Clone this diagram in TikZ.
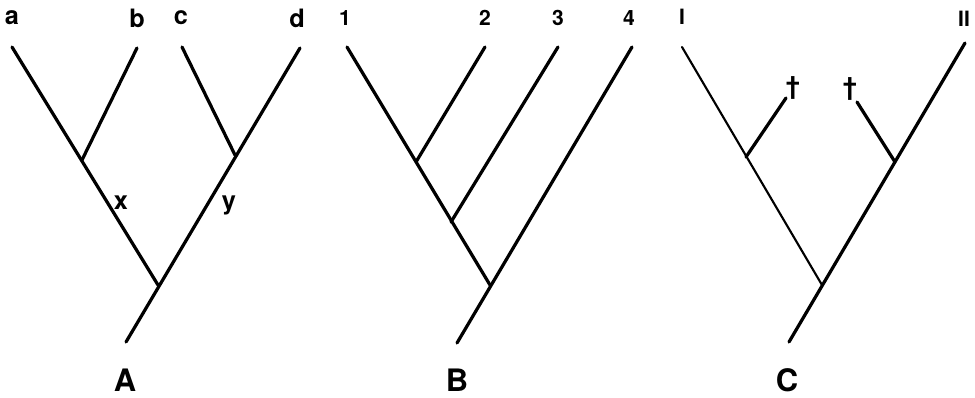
\documentclass[tikz,border=0pt]{standalone}
\usepackage{fontspec}
\setmainfont{TeX Gyre Heros}
\usepackage{tikz}

\begin{document}
\begin{tikzpicture}[x=0.025cm,y=-0.025cm,
  branch/.style={line width=2.3pt,line cap=round},
  twig/.style={line width=1.5pt,line cap=round},
  leaf/.style={font=\bfseries\fontsize{18}{18}\selectfont,inner sep=0pt},
  num/.style={font=\bfseries\fontsize{15}{15}\selectfont,inner sep=0pt},
  title/.style={font=\bfseries\fontsize{22}{22}\selectfont,inner sep=0pt}]
\useasboundingbox (0,0) rectangle (975,397);
% tree A
\coordinate (ta) at (12,47);  \coordinate (tb) at (137,48);
\coordinate (tc) at (182,47); \coordinate (td) at (300,48);
\coordinate (nab) at (82,160); \coordinate (ncd) at (235,155);
\coordinate (ra) at (158,285); \coordinate (ba) at (126,342);
\draw[branch] (ta) -- (ra);
\draw[branch] (tb) -- (nab);
\draw[branch] (tc) -- (ncd);
\draw[branch] (td) -- (ba);
\foreach \n/\x in {a/12,b/137,c/181,d/297} { \node[leaf] (l\n) at (\x,18) {\n}; }
\node[leaf] (lx) at (121,203) {x};
\node[leaf] (ly) at (229,205) {y};
\node[title] (capA) at (125,380) {A};
% tree B
\coordinate (t1) at (347,47); \coordinate (t2) at (485,47);
\coordinate (t3) at (558,47); \coordinate (t4) at (632,47);
\coordinate (n2) at (416,162); \coordinate (n3) at (451,222);
\coordinate (rb) at (490,285); \coordinate (bb) at (457,343);
\draw[branch] (t1) -- (rb);
\draw[branch] (t2) -- (n2);
\draw[branch] (t3) -- (n3);
\draw[branch] (t4) -- (bb);
\foreach \n/\x in {1/345,2/485,3/558,4/629} { \node[num] (l\n) at (\x,18) {\n}; }
\node[title] (capB) at (457,380) {B};
% tree C
\coordinate (tI) at (682,47); \coordinate (tII) at (965,43);
\coordinate (nl) at (746,157); \coordinate (nr) at (895,162);
\coordinate (dl) at (786,98); \coordinate (dr) at (857,102);
\coordinate (rc) at (822,285); \coordinate (bc) at (789,342);
\draw[twig] (tI) -- (rc);
\draw[branch] (dl) -- (nl);
\draw[branch] (dr) -- (nr);
\draw[branch] (tII) -- (bc);
\node[num] (lI) at (682,17) {I};
\node[num] (lII) at (964,19) {II};
\node[leaf] (xl) at (793,88) {†};
\node[leaf] (xr) at (850,89) {†};
\node[title] (capC) at (787,380) {C};
\end{tikzpicture}
\end{document}
